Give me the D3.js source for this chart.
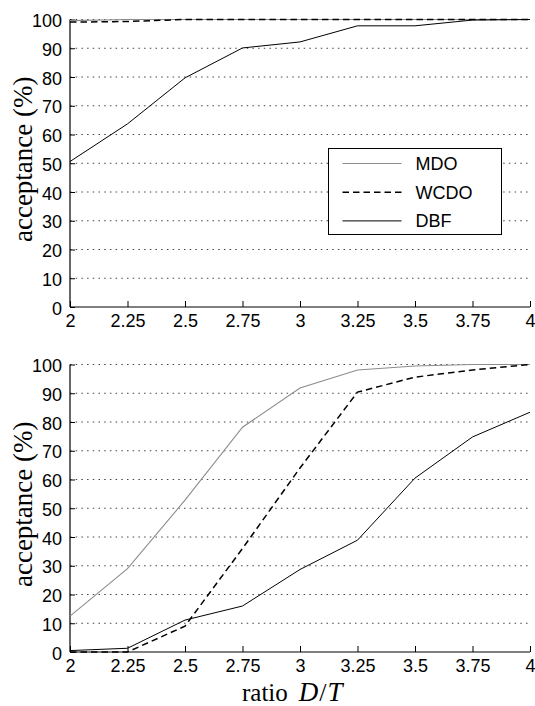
<!DOCTYPE html>
<html>
<head>
<meta charset="utf-8">
<script src="https://cdn.jsdelivr.net/npm/d3@7"></script>
<style>
    body { margin: 0; background: #fff; }
    .tick-label { font-family: "Liberation Sans", Arial, sans-serif; font-size: 18px; }
    .axis-title { font-family: "Liberation Serif", "Times New Roman", serif; }
</style>
</head>
<body>
<div id="chart"></div>
<script>
// x positions (ratio D/T)
let ratios = [2, 2.25, 2.5, 2.75, 3, 3.25, 3.5, 3.75, 4];
let xTickLabels = ["2", "2.25", "2.5", "2.75", "3", "3.25", "3.5", "3.75", "4"];
let yTicks = [0, 10, 20, 30, 40, 50, 60, 70, 80, 90, 100];

let seriesNames = ["MDO", "WCDO", "DBF"];

// top panel
let topMDO  = [99.6, 100, 100, 100, 100, 100, 100, 100, 100];
let topWCDO = [99.1, 99.3, 100, 100, 100, 100, 100, 100, 100];
let topDBF  = [50.6, 63.7, 79.7, 90.1, 92.2, 97.8, 97.8, 99.8, 100];

// bottom panel
let botMDO  = [12.5, 29, 52.8, 78.2, 91.8, 98.1, 99.5, 100, 100];
let botWCDO = [0, 0, 9, 36, 64, 90.4, 95.6, 98.1, 100];
let botDBF  = [0.5, 1.3, 11.1, 16, 28.7, 38.9, 60.5, 74.8, 83.4];

class LinePanel {
    constructor(svg, top, values, showLegend) {
        this.svg = svg;
        this.top = top;
        this.values = values;
        this.showLegend = showLegend;
        this.initVis();
    }

    initVis() {
        let vis = this;

        vis.left = 70;
        vis.right = 530;
        vis.height = 287.5;

        vis.x = d3.scaleLinear().domain([2, 4]).range([vis.left, vis.right]);
        vis.y = d3.scaleLinear().domain([0, 100]).range([vis.top + vis.height, vis.top]);

        vis.g = vis.svg.append("g");

        // dotted grid
        vis.g.selectAll(".grid").data(yTicks.filter(t => t > 0)).enter()
            .append("line")
            .attr("x1", vis.left)
            .attr("x2", vis.right)
            .attr("y1", d => vis.y(d))
            .attr("y2", d => vis.y(d))
            .attr("stroke", "#444")
            .attr("stroke-width", 1)
            .attr("stroke-dasharray", "1.5,4.2");

        // axes
        let xAxis = d3.axisBottom(vis.x).tickValues(ratios).tickSize(-6).tickPadding(6)
            .tickFormat((d, i) => xTickLabels[i]);
        let yAxis = d3.axisLeft(vis.y).tickValues(yTicks).tickSize(-5).tickPadding(8);

        vis.xAxisG = vis.g.append("g")
            .attr("transform", `translate(0, ${vis.y(0)})`)
            .call(xAxis);
        vis.yAxisG = vis.g.append("g")
            .attr("transform", `translate(${vis.left}, 0)`)
            .call(yAxis);

        [vis.xAxisG, vis.yAxisG].forEach(a => {
            a.attr("font-family", null).attr("font-size", null);
            a.select(".domain").attr("stroke", "#000").attr("stroke-width", 1.2);
            a.selectAll(".tick line").attr("stroke", "#000");
            a.selectAll("text").attr("class", "tick-label").attr("fill", "#000");
        });
        vis.yAxisG.selectAll("text").attr("dy", "0.4em");
        vis.xAxisG.selectAll("text").attr("dy", "0.78em");

        // no outer ticks on the domain lines
        vis.yAxisG.select(".domain").attr("d", `M0,${vis.y(100)}V${vis.y(0)}`);
        vis.xAxisG.select(".domain").attr("d", `M${vis.left},0H${vis.right}`);

        vis.line = d3.line()
            .x((d, i) => vis.x(ratios[i]))
            .y(d => vis.y(d));

        vis.styles = [
            {stroke: "#8c8c8c", width: 1.1, dash: null},
            {stroke: "#000", width: 1.5, dash: "6.5,4"},
            {stroke: "#000", width: 1, dash: null}
        ];

        vis.values.forEach((v, i) => {
            vis.g.append("path")
                .datum(v)
                .attr("d", vis.line)
                .attr("fill", "none")
                .attr("stroke", vis.styles[i].stroke)
                .attr("stroke-width", vis.styles[i].width)
                .attr("stroke-dasharray", vis.styles[i].dash);
        });

        // y title
        vis.g.append("text")
            .attr("class", "axis-title")
            .attr("transform", `translate(32, ${vis.y(50) - 4}) rotate(-90)`)
            .attr("text-anchor", "middle")
            .attr("font-size", 27)
            .text("acceptance (%)");

        if (vis.showLegend) vis.drawLegend();
    }

    drawLegend() {
        let vis = this;
        let lg = vis.g.append("g").attr("transform", "translate(328.5, 148.5)");
        lg.append("rect")
            .attr("width", 173)
            .attr("height", 86)
            .attr("fill", "#fff")
            .attr("stroke", "#000");
        seriesNames.forEach((name, i) => {
            let yy = 15 + i * 28.7;
            lg.append("line")
                .attr("x1", 14).attr("x2", 73)
                .attr("y1", yy).attr("y2", yy)
                .attr("stroke", vis.styles[i].stroke)
                .attr("stroke-width", vis.styles[i].width)
                .attr("stroke-dasharray", vis.styles[i].dash);
            lg.append("text")
                .attr("class", "tick-label")
                .attr("x", 87)
                .attr("y", yy)
                .attr("dy", "0.36em")
                .text(name);
        });
    }
}

let svg = d3.select("#chart").append("svg")
    .attr("width", 535)
    .attr("height", 706);

new LinePanel(svg, 19.5, [topMDO, topWCDO, topDBF], true);
new LinePanel(svg, 364.5, [botMDO, botWCDO, botDBF], false);

// x title: ratio D/T
let xt = svg.append("text")
    .attr("class", "axis-title")
    .attr("x", 242)
    .attr("y", 701)
    .attr("font-size", 25);
xt.append("tspan").text("ratio");
xt.append("tspan").attr("font-style", "italic").attr("font-size", 27).attr("dx", 11).text("D");
xt.append("tspan").attr("font-size", 26).attr("dx", 1).text("/");
xt.append("tspan").attr("font-style", "italic").attr("font-size", 27).attr("dx", 1).text("T");
</script>
</body>
</html>
